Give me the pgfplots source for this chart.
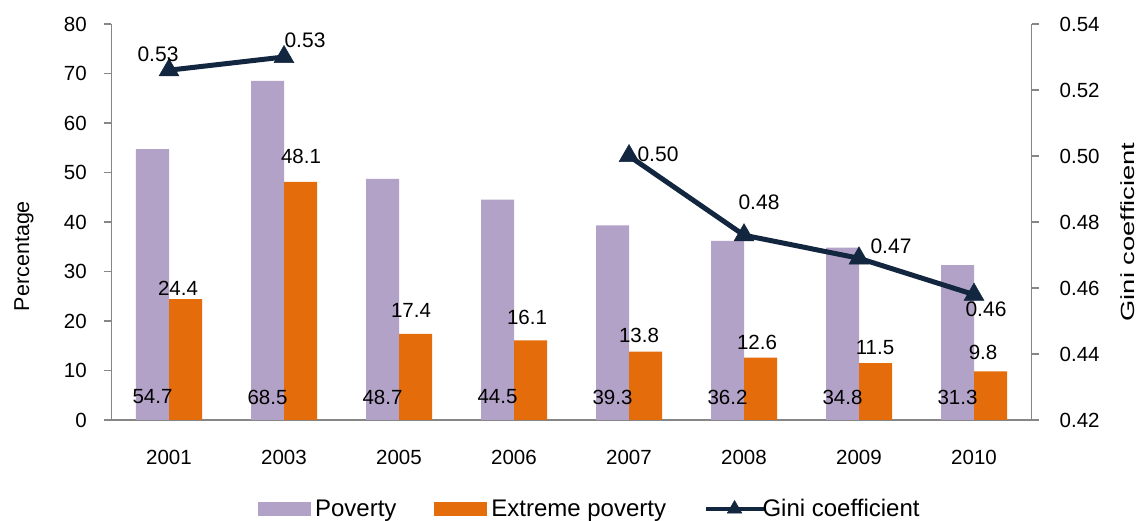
\documentclass[border=0pt]{standalone}
\usepackage{pgfplots}
\pgfplotsset{compat=1.18}
\usepackage{pgfplotstable}
\usepackage{fontspec}
\setmainfont{Liberation Sans}

\definecolor{povcol}{HTML}{B2A2C7}
\definecolor{extcol}{HTML}{E46C0A}
\definecolor{ginicol}{HTML}{13263F}
\definecolor{axgray}{HTML}{868686}

% Poverty and extreme poverty (%), with label offsets for the extreme-poverty values
\pgfplotstableread{
x year pov ext edx edy
0 2001 54.7 24.4 9 11
1 2003 68.5 48.1 17 25
2 2005 48.7 17.4 12 23
3 2006 44.5 16.1 13 23
4 2007 39.3 13.8 10 16
5 2008 36.2 12.6 13 15
6 2009 34.8 11.5 16 16
7 2010 31.3 9.8 9 19
}\povtable

% Gini coefficient (no survey value for 2005 and 2006)
\pgfplotstableread{
x gini gdx gdy
0 0.526 -11 16
1 0.530 21 17
2 nan 0 0
3 nan 0 0
4 0.500 29 2
5 0.476 15 33
6 0.469 32 12
7 0.458 12 -15
}\ginitable

\pgfplotsset{
  common/.style={
    scale only axis, width=920pt, height=396pt,
    at={(111.5pt,101pt)}, anchor=south west,
    xmin=-0.5, xmax=7.5, clip=false,
    axis line style={axgray, line width=1.3pt},
    tick style={axgray, line width=1.1pt},
    tick align=outside, major tick length=7pt,
    tick label style={font=\fontsize{20.5}{24}\selectfont, black},
    /pgf/number format/assume math mode=true,
    every node near coord/.append style={font=\fontsize{20.5}{24}\selectfont, black, anchor=center},
  },
  ginileg/.style={legend image code/.code={%
    \draw[##1, mark=none, line width=4pt] (0pt,0pt) -- (50pt,0pt);
    \draw[##1, mark=none, line width=4pt, overlay] (49pt,0pt) -- (58pt,0pt);
    \path[##1] plot[mark size=8.5pt] coordinates {(28.5pt,0pt)};}},
}

\begin{document}
\begin{tikzpicture}
\useasboundingbox (0,0) rectangle (1140pt,521pt);

% Left axis: bars
\begin{axis}[common,
  axis y line*=left, axis x line*=bottom,
  ymin=0, ymax=80, ytick={0,10,...,80},
  yticklabel style={anchor=east, inner sep=0pt, xshift=-17.5pt},
  xtick={0,...,7},
  xticklabels={2001,2003,2005,2006,2007,2008,2009,2010},
  major x tick style={draw=none},
  xticklabel style={anchor=center, inner sep=0pt, yshift=-30pt},
  extra x ticks={0.5,1.5,2.5,3.5,4.5,5.5,6.5},
  extra x tick labels={},
  extra x tick style={major x tick style={axgray, line width=1.1pt}},
  ylabel={Percentage},
  every axis y label/.style={at={(axis description cs:-0.0951,0.414)}, rotate=90, anchor=center, font=\fontsize{21.5}{25}\selectfont},
]
\addplot[ybar, bar width=33pt, bar shift=-16.5pt, fill=povcol, draw=none]
  table[x=x, y=pov] {\povtable};
\addplot[ybar, bar width=33pt, bar shift=16.5pt, fill=extcol, draw=none,
  visualization depends on={\thisrow{edx} \as \edx},
  visualization depends on={\thisrow{edy} \as \edy},
  point meta=explicit,
  nodes near coords={\pgfmathprintnumber[fixed, precision=1, zerofill]{\pgfplotspointmeta}},
  every node near coord/.append style={anchor=center, xshift=\edx pt, yshift=\edy pt}]
  table[x=x, y=ext, meta=ext] {\povtable};
% poverty values written near the base of each bar
\addplot[draw=none, mark=none,
  point meta=explicit,
  nodes near coords={\pgfmathprintnumber[fixed, precision=1, zerofill]{\pgfplotspointmeta}},
  every node near coord/.append style={anchor=center, xshift=-16.5pt, yshift=23pt}]
  table[x=x, y expr=0, meta=pov] {\povtable};
\end{axis}

% Right axis: Gini coefficient
\begin{axis}[common,
  axis y line*=right, axis x line=none,
  ymin=0.42, ymax=0.54,
  ytick={0.42,0.44,0.46,0.48,0.50,0.52,0.54},
  yticklabel style={anchor=west, inner sep=0pt, xshift=21pt,
    /pgf/number format/.cd, fixed, precision=2, zerofill},
  ylabel={Gini coefficient},
  every axis y label/.style={at={(axis description cs:1.1049,0.475)}, rotate=90, xscale=1.44, transform shape, anchor=center, font=\fontsize{19}{23}\selectfont},
  unbounded coords=jump,
  legend style={at={(axis description cs:0.5213,-0.2247)}, anchor=center,
    draw=none, fill=none, legend columns=3,
    font=\fontsize{24}{28}\selectfont,
    /tikz/every even column/.append style={column sep=33.5pt},
    nodes={inner sep=4.5pt}},
  legend cell align=left,
]
\addlegendimage{legend image code/.code={\fill[povcol] (0pt,-6.5pt) rectangle (52pt,6.5pt);}}
\addlegendentry{Poverty}
\addlegendimage{legend image code/.code={\fill[extcol] (0pt,-6.5pt) rectangle (52pt,6.5pt);}}
\addlegendentry{Extreme poverty}
\addplot[ginicol, line width=5pt, mark=triangle*, mark size=11.5pt,
  mark options={solid, line width=0.5pt},
  visualization depends on={\thisrow{gdx} \as \gdx},
  visualization depends on={\thisrow{gdy} \as \gdy},
  point meta=explicit,
  nodes near coords={\pgfmathprintnumber[fixed, precision=2, zerofill]{\pgfplotspointmeta}},
  every node near coord/.append style={anchor=center, xshift=\gdx pt, yshift=\gdy pt, font=\fontsize{21}{25}\selectfont},
  ginileg]
  table[x=x, y=gini, meta=gini] {\ginitable};
\addlegendentry{Gini coefficient}
\end{axis}
\end{tikzpicture}
\end{document}
